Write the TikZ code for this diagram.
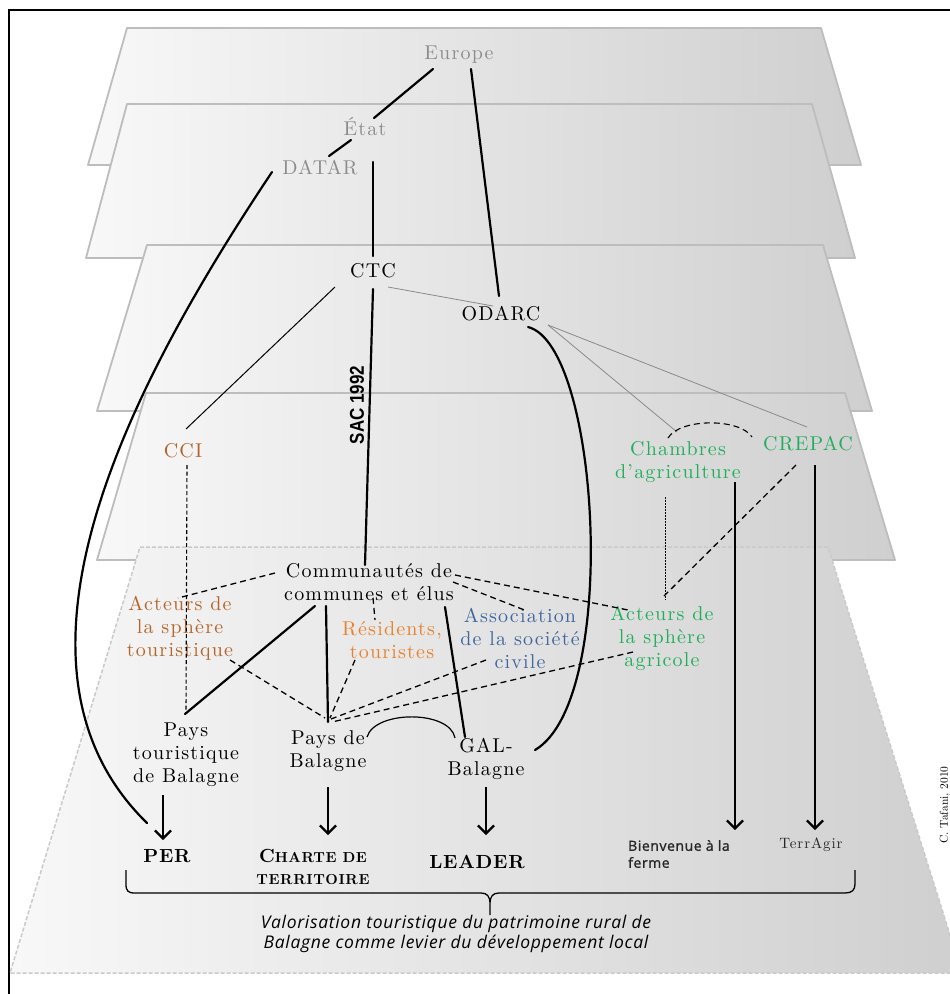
\documentclass[tikz,border=0pt]{standalone}
\usepackage{fontspec}
\usepackage{graphicx}
\usetikzlibrary{arrows.meta,calc}
\setmainfont{lmroman10-regular.otf}[BoldFont=lmroman10-bold.otf, ItalicFont=lmroman10-italic.otf]
\newfontfamily\spaced{lmroman10-regular.otf}[LetterSpace=6]
\newfontfamily\spacedbold{lmroman10-bold.otf}[LetterSpace=4]
\newfontfamily\osans{Open Sans}[LetterSpace=4]
\newfontfamily\osanssemi{Open Sans}[FakeBold=1.2, LetterSpace=4]
\newfontfamily\lsans{Liberation Sans}
\definecolor{txtgray}{HTML}{8C8C8C}
\definecolor{brownc}{HTML}{B5652B}
\definecolor{orangec}{HTML}{E8822E}
\definecolor{greenc}{HTML}{22AE5C}
\definecolor{bluec}{HTML}{41679F}
\definecolor{planeL}{HTML}{F8F8F8}
\definecolor{planeR}{HTML}{CFCFCF}
\definecolor{planeB}{HTML}{BDBDBD}
\definecolor{linegray}{HTML}{8A8A8A}
\tikzset{
  lab/.style={font=\spaced\fontsize{20}{23}\selectfont, align=center, inner sep=0pt},
  boldlab/.style={font=\spacedbold\fontsize{19}{23}\selectfont, align=center, inner sep=0pt},
  plane/.style={draw=planeB, line width=1.8pt, line join=round, left color=planeL, right color=planeR},
  thickline/.style={line width=2.2pt, line cap=round},
  thinline/.style={line width=1pt},
  grayline/.style={line width=0.8pt, draw=linegray},
  dashline/.style={line width=1.3pt, dash pattern=on 6pt off 4pt},
  finedash/.style={line width=1.1pt, dash pattern=on 4pt off 2.5pt},
  dotline/.style={line width=1pt, dash pattern=on 1.5pt off 1.5pt},
  arrowline/.style={line width=2.2pt, -{Straight Barb[length=8pt,width=16pt]}},
}
\begin{document}
\begin{tikzpicture}[x=1pt,y=-1pt]
\useasboundingbox (0,0) rectangle (950,994);
\fill[white] (0,0) rectangle (950,994);
% outer frame
\draw[line width=1.5pt] (9,994) -- (9,10) -- (955,10);
% planes
\path[plane] (127,28) -- (821,28) -- (861,165) -- (88,165) -- cycle;
\path[plane] (127,104) -- (812,104) -- (855,258) -- (86,258) -- cycle;
\path[plane] (147,245) -- (823,245) -- (872,411) -- (97,411) -- cycle;
\path[plane] (146,393) -- (845,393) -- (895,560) -- (97,560) -- cycle;
\path[left color=planeL, right color=planeR] (140,547) -- (828,547) -- (962,973) -- (10,973) -- cycle;
\draw[draw=planeB!80, line width=1.5pt, dash pattern=on 4pt off 2pt] (140,547) -- (828,547) -- (962,973) -- (10,973) -- cycle;

% nodes
\node[lab, text=txtgray] (europe) at (459,55) {Europe};
\node[lab, text=txtgray] (etat) at (365,127) {État};
\node[lab, text=txtgray] (datar) at (320,168) {DATAR};
\node[lab] (ctc) at (373,271) {CTC};
\node[lab] (odarc) at (501,314) {ODARC};
\node[lab, text=brownc] (cci) at (183,451) {CCI};
\node[lab, text=greenc] (chambres) at (678,462) {Chambres\\d’agriculture};
\node[lab, text=greenc] (crepac) at (808,444) {CREPAC};
\node[lab] (comm) at (369,582) {Communautés de\\communes et élus};
\node[lab, text=brownc] (actour) at (180,628) {Acteurs de\\la sphère\\touristique};
\node[lab, text=orangec] (resid) at (392,640) {Résidents,\\touristes};
\node[lab, text=bluec] (assoc) at (520,638) {Association\\de la société\\civile};
\node[lab, text=greenc] (acagri) at (662,638) {Acteurs de\\la sphère\\agricole};
\node[lab] (paystour) at (186,755) {Pays\\touristique\\de Balagne};
\node[lab] (paysbal) at (328,751) {Pays de\\Balagne};
\node[lab] (gal) at (486,759) {GAL-\\Balagne};
\node[boldlab] (per) at (167,856) {PER};
\node[align=center, inner sep=0pt, font=\spacedbold\fontsize{14.5}{22}\selectfont] (charte) at (313,867)
  {{\fontsize{19}{22}\selectfont C}HARTE DE\\TERRITOIRE};
\node[boldlab] (leader) at (477,862) {LEADER};
\node[anchor=west, align=left, inner sep=0pt, text=black!85, font=\osanssemi\fontsize{14}{17}\selectfont] (bienv) at (628,854) {Bienvenue à la\\ferme};
\node[inner sep=0pt, text=black!85, font=\spaced\fontsize{15}{16}\selectfont] (terragir) at (811,845) {TerrAgir};
\node[align=center, inner sep=0pt, font=\osans\itshape\fontsize{17.5}{20}\selectfont] (valo) at (456,934)
  {Valorisation touristique du patrimoine rural de\\Balagne comme levier du développement local};
\node[rotate=90, inner sep=0pt, font=\fontsize{11.5}{12}\selectfont] (tafani) at (945,805) {C. Tafani, 2010};
\node[rotate=90, inner sep=0pt, font=\lsans\bfseries\fontsize{20}{22}\selectfont] (sac) at (357,405) {\scalebox{0.85}[1]{SAC 1992}};

% connectors
\draw[thickline] ($(europe.center)+(-26,14)$) -- ($(etat.center)+(9,-9)$);
\draw[thickline] ($(etat.center)+(-14,13)$) -- ($(datar.center)+(9,-12)$);
\draw[thickline] ($(europe.center)+(12,14)$) -- ($(odarc.center)+(-2,-18)$);
\draw[thickline] ($(etat.center)+(8,35)$) -- ($(ctc.center)+(0,-15)$);
\draw[thickline] ($(datar.center)+(-48,4)$) .. controls (140,370) and (-20,660) .. ($(per.center)+(-20,-33)$);
\draw[thickline] ($(ctc.center)+(0,18)$) -- ($(comm.center)+(-4,-17)$);
\draw[thinline] ($(ctc.center)+(-38,16)$) -- ($(cci.center)+(3,-22)$);
\draw[grayline] ($(ctc.center)+(15,16)$) -- ($(odarc.center)+(-8,-8)$);
\draw[thickline] ($(odarc.center)+(27,13)$) .. controls (600,345) and (620,700) .. ($(gal.center)+(49,-9)$);
\draw[grayline] ($(odarc.center)+(47,11)$) -- ($(chambres.center)+(-1,-30)$);
\draw[grayline] ($(odarc.center)+(47,11)$) -- ($(crepac.center)+(-1,-17)$);
\draw[dashline, line width=1.1pt] ($(chambres.center)+(-10,-24)$) .. controls (680,418) and (740,418) .. ($(crepac.center)+(-56,-7)$);
\draw[dotline] ($(chambres.center)+(-13,35)$) -- ($(acagri.center)+(3,-38)$);
\draw[dashline] ($(crepac.center)+(-12,21)$) -- ($(acagri.center)+(1,-41)$);
\draw[arrowline] ($(chambres.center)+(57,20)$) -- ($(bienv.west)+(107,-24)$);
\draw[arrowline] ($(crepac.center)+(7,21)$) -- ($(terragir.center)+(4,-15)$);
\draw[finedash] ($(cci.center)+(4,14)$) -- ($(paystour.center)+(0,-42)$);
\draw[thickline] ($(comm.center)+(-54,24)$) -- ($(paystour.center)+(-1,-41)$);
\draw[dashline] ($(comm.center)+(-94,-9)$) -- ($(actour.center)+(-2,-30)$);
\draw[dashline] ($(comm.center)+(4,16)$) -- ($(resid.center)+(-17,-20)$);
\draw[thickline] ($(comm.center)+(-43,24)$) -- ($(paysbal.center)+(0,-29)$);
\draw[thickline] ($(comm.center)+(76,25)$) -- ($(gal.center)+(-21,-22)$);
\draw[dashline] ($(comm.center)+(84,0)$) -- ($(assoc.center)+(7,-27)$);
\draw[dashline] ($(comm.center)+(86,-7)$) -- ($(acagri.center)+(-34,-28)$);
\draw[dashline] ($(actour.center)+(50,32)$) -- ($(paysbal.center)+(-3,-33)$);
\draw[dashline] ($(resid.center)+(-37,20)$) -- ($(paysbal.center)+(2,-33)$);
\draw[dashline] ($(assoc.center)+(-34,22)$) -- ($(paysbal.center)+(3,-32)$);
\draw[dashline] ($(acagri.center)+(-29,14)$) -- ($(paysbal.center)+(4,-29)$);
\draw[thinline, line width=1.2pt] ($(paysbal.center)+(39,-14)$) .. controls (375,710) and (450,710) .. ($(gal.center)+(-31,-21)$);
\draw[arrowline] ($(paystour.center)+(-23,40)$) -- ($(per.center)+(-4,-16)$);
\draw[arrowline] ($(paysbal.center)+(0,36)$) -- ($(charte.center)+(15,-32)$);
\draw[arrowline] ($(gal.center)+(0,28)$) -- ($(leader.center)+(9,-27)$);

% brace
\draw[line width=1.3pt, line join=round] (126,870) -- (126,884) .. controls (126,891) and (128,893) .. (135,893)
  -- (481,893) .. controls (487,893) and (490,896) .. (490,904) -- (490,915)
  (490,904) .. controls (490,896) and (493,893) .. (499,893) -- (845,893)
  .. controls (852,893) and (855,890) .. (855,884) -- (855,870);
\end{tikzpicture}
\end{document}
